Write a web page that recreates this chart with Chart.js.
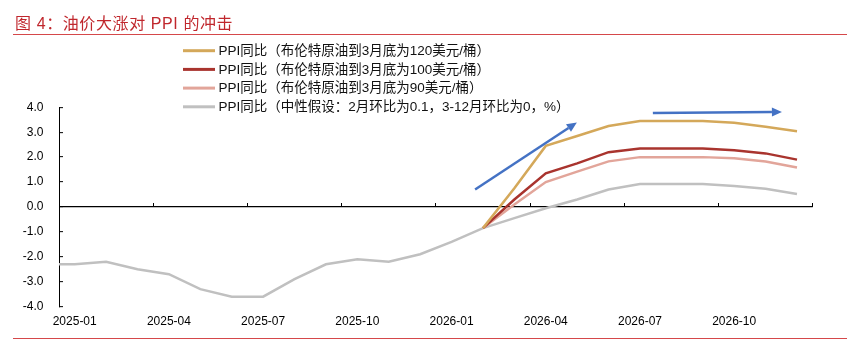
<!DOCTYPE html>
<html>
<head>
<meta charset="utf-8">
<script src="https://cdn.jsdelivr.net/npm/chart.js@4"></script>
<style>
  body { margin: 0; background: #fff; }
  #wrap { position: relative; width: 866px; height: 350px; }
  #chart { position: absolute; left: 0; top: 0; }
  .title {
    position: absolute; left: 15px; top: 10px; line-height: 20px; letter-spacing: 0.6px;
    font: 16px "Liberation Sans", "Noto Sans CJK SC", sans-serif; color: #C0272D;
  }
  .rule { position: absolute; left: 13px; width: 834px; height: 1.5px; background: #D5484A; }
</style>
</head>
<body>
<div id="wrap">
  <canvas id="chart" width="866" height="350"></canvas>
  <div class="title">图 4：油价大涨对 PPI 的冲击</div>
  <div class="rule" style="top:33.5px"></div>
  <div class="rule" style="top:337.5px"></div>
</div>
<script>
// months; 2024-12 only feeds the line segment that runs into the left axis
const months = ['2024-12',
  '2025-01','2025-02','2025-03','2025-04','2025-05','2025-06','2025-07','2025-08','2025-09','2025-10','2025-11','2025-12',
  '2026-01','2026-02','2026-03','2026-04','2026-05','2026-06','2026-07','2026-08','2026-09','2026-10','2026-11','2026-12'];

const seriesNames = [
  'PPI同比（布伦特原油到3月底为120美元/桶）',
  'PPI同比（布伦特原油到3月底为100美元/桶）',
  'PPI同比（布伦特原油到3月底为90美元/桶）',
  'PPI同比（中性假设：2月环比为0.1，3-12月环比为0，%）'
];

const n = null;
const brent120 = [n, n,n,n,n,n,n,n,n,n,n,n,n, n, -0.85, 0.75, 2.45, 2.85, 3.25, 3.45, 3.45, 3.45, 3.38, 3.22, 3.04];
const brent100 = [n, n,n,n,n,n,n,n,n,n,n,n,n, n, -0.85, 0.30, 1.35, 1.75, 2.20, 2.35, 2.35, 2.35, 2.28, 2.15, 1.90];
const brent90  = [n, n,n,n,n,n,n,n,n,n,n,n,n, n, -0.85, 0.10, 1.00, 1.42, 1.83, 2.00, 2.00, 2.00, 1.95, 1.82, 1.58];
const neutral  = [-2.3, -2.3, -2.2, -2.5, -2.7, -3.3, -3.6, -3.6, -2.9, -2.3, -2.1, -2.2, -1.9,
                  -1.4, -0.85, -0.45, -0.05, 0.30, 0.70, 0.92, 0.92, 0.92, 0.84, 0.73, 0.52];

const lineColors = ['#D4A85A', '#A9342E', '#E2A59A', '#C0C0C0'];

// blue trend arrows, [month index, value] from -> to
const arrowFrom = [[13.75, 0.70], [19.41, 3.77]];
const arrowTo   = [[16.99, 3.39], [23.52, 3.81]];

const yTicks = [-4, -3, -2, -1, 0, 1, 2, 3, 4];

const TXT = '"Liberation Sans", "Noto Sans CJK SC", sans-serif';

const legendPlugin = {
  id: 'stackedLegend',
  afterDraw(chart) {
    const ctx = chart.ctx;
    ctx.save();
    ctx.font = '13.5px ' + TXT;
    ctx.textBaseline = 'middle';
    ctx.fillStyle = '#111';
    chart.data.datasets.forEach((ds, i) => {
      const y = 50.7 + i * 18.7;
      ctx.strokeStyle = ds.borderColor;
      ctx.lineWidth = 3;
      ctx.beginPath();
      ctx.moveTo(183, y);
      ctx.lineTo(215, y);
      ctx.stroke();
      ctx.fillText(ds.label, 218.5, y + 0.5);
    });
    ctx.restore();
  }
};

const arrowPlugin = {
  id: 'arrows',
  afterDatasetsDraw(chart) {
    const {ctx, scales: {x, y}} = chart;
    ctx.save();
    ctx.strokeStyle = '#4472C4';
    ctx.fillStyle = '#4472C4';
    ctx.lineWidth = 2.5;
    arrowFrom.forEach((a, i) => {
      const x1 = x.getPixelForValue(a[0]), y1 = y.getPixelForValue(a[1]);
      const x2 = x.getPixelForValue(arrowTo[i][0]), y2 = y.getPixelForValue(arrowTo[i][1]);
      const ang = Math.atan2(y2 - y1, x2 - x1);
      const head = 10, half = 4.5;
      const bx = x2 - head * Math.cos(ang), by = y2 - head * Math.sin(ang);
      ctx.beginPath();
      ctx.moveTo(x1, y1);
      ctx.lineTo(bx, by);
      ctx.stroke();
      ctx.beginPath();
      ctx.moveTo(x2, y2);
      ctx.lineTo(bx + half * Math.sin(ang), by - half * Math.cos(ang));
      ctx.lineTo(bx - half * Math.sin(ang), by + half * Math.cos(ang));
      ctx.closePath();
      ctx.fill();
    });
    ctx.restore();
  }
};

const seriesData = [brent120, brent100, brent90, neutral];

new Chart(document.getElementById('chart'), {
  type: 'line',
  data: {
    labels: months,
    datasets: seriesData.map((d, i) => ({
      label: seriesNames[i],
      data: d,
      borderColor: lineColors[i],
      backgroundColor: lineColors[i],
      borderWidth: 2.5,
      pointRadius: 0,
      tension: 0,
      fill: false
    }))
  },
  options: {
    responsive: false,
    animation: false,
    layout: { padding: { top: 107.3, right: 53.3, bottom: 21, left: 0 } },
    plugins: {
      legend: { display: false },
      tooltip: { enabled: false }
    },
    scales: {
      x: {
        type: 'category',
        position: 'bottom',
        offset: true,
        min: '2025-01',
        grid: { display: false },
        border: { display: false },
        ticks: {
          autoSkip: false,
          maxRotation: 0,
          padding: 0,
          color: '#000',
          font: { family: TXT, size: 12 },
          callback: function(v, i) { return i % 3 === 0 ? this.getLabelForValue(v) : ''; }
        }
      },
      x2: {
        type: 'category',
        position: { y: 0 },
        offset: true,
        min: '2025-01',
        border: { display: false },
        ticks: { display: false },
        grid: {
          offset: true,
          drawOnChartArea: false,
          tickLength: -4,
          tickWidth: 1,
          color: ctx => (ctx.index === undefined || ctx.index % 3 === 0) ? '#000' : 'rgba(0,0,0,0)'
        }
      },
      y: {
        min: -4,
        max: 4,
        afterFit: s => { s.width = 59; },
        afterBuildTicks: s => { s.ticks = yTicks.map(v => ({ value: v })); },
        border: { display: true, color: '#000', width: 1 },
        grid: {
          color: ctx => (ctx.tick && ctx.tick.value === 0) ? '#000' : 'rgba(0,0,0,0)',
          lineWidth: 1.3,
          tickColor: '#000',
          tickWidth: 1,
          tickLength: -4
        },
        ticks: {
          padding: 19.5,
          color: '#000',
          font: { family: TXT, size: 12 },
          callback: v => v.toFixed(1)
        }
      }
    }
  },
  plugins: [legendPlugin, arrowPlugin]
});
</script>
</body>
</html>
